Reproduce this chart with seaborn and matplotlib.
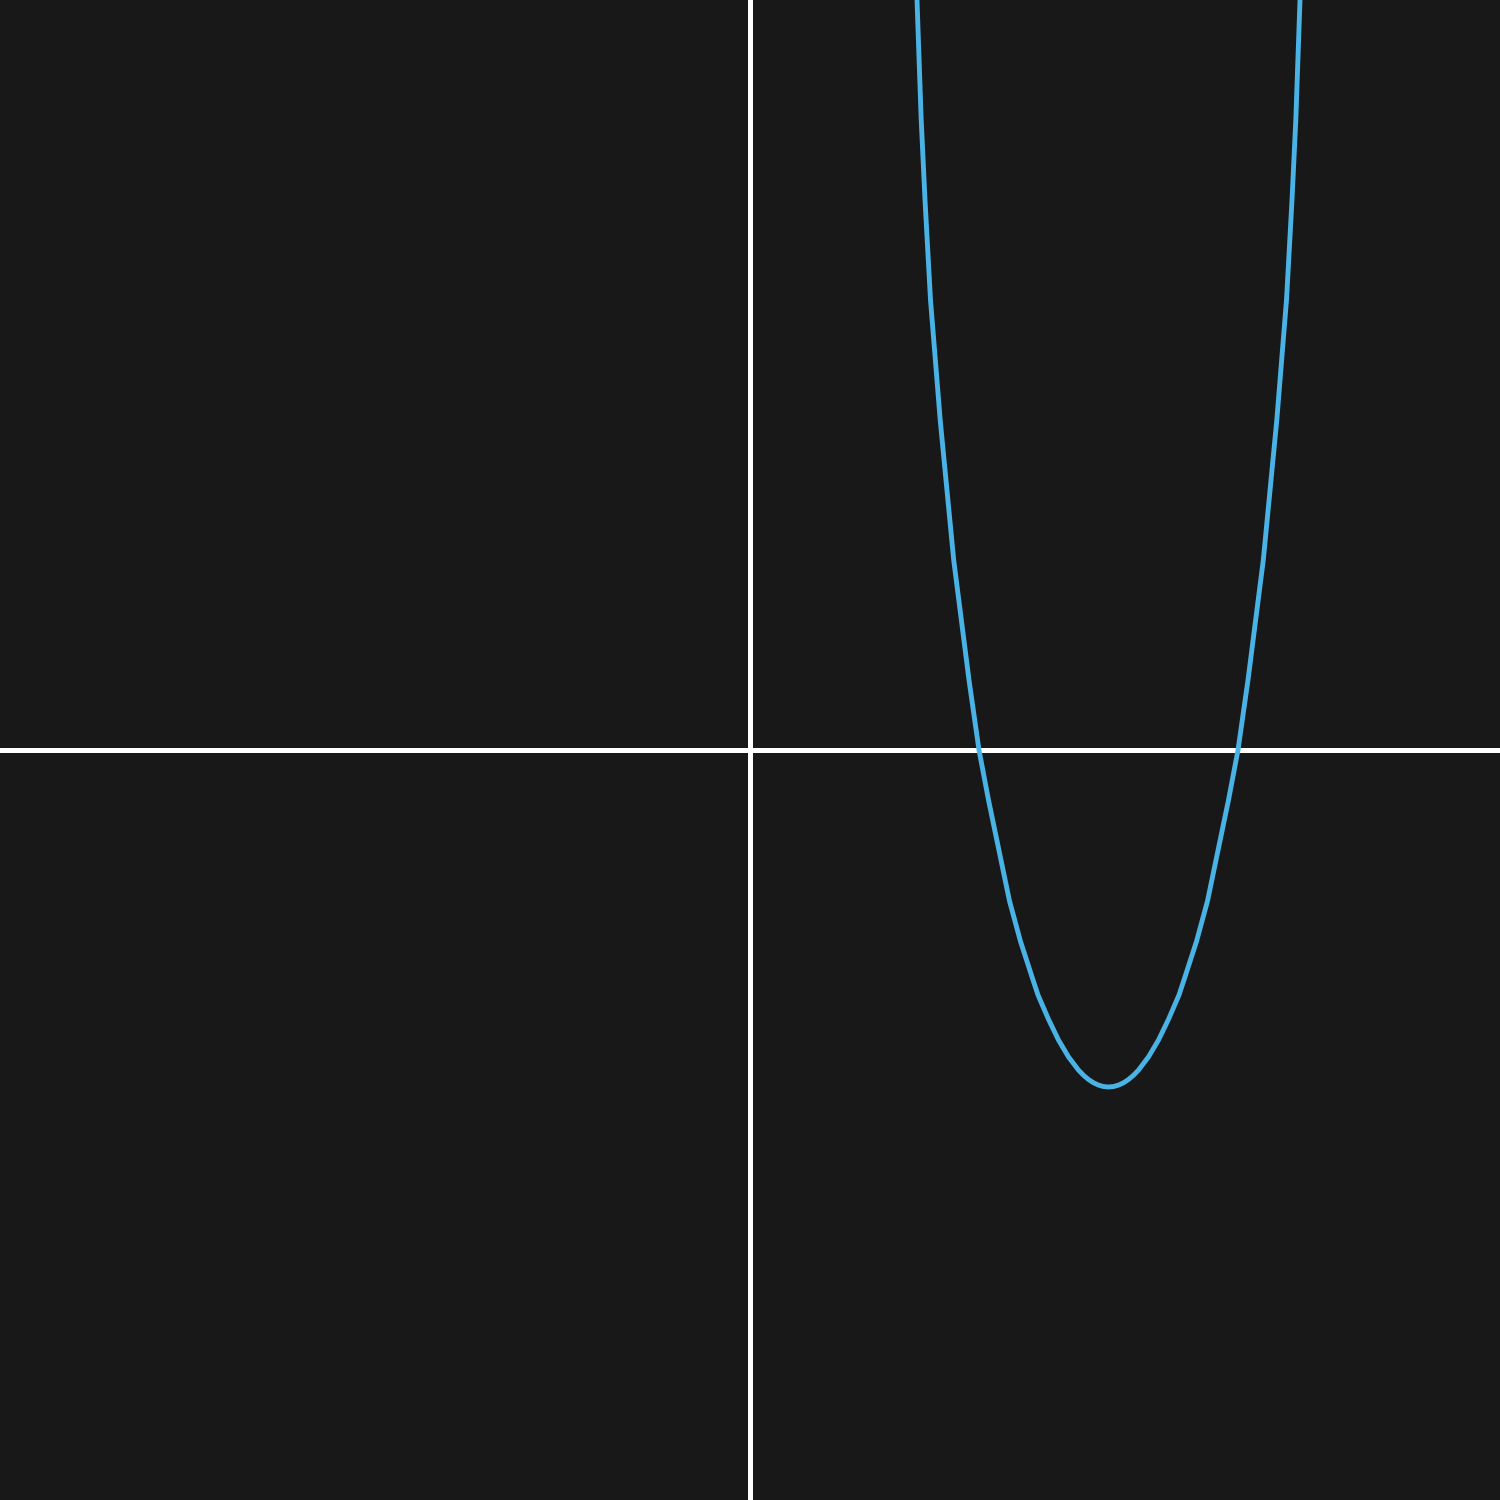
import matplotlib
matplotlib.use("Agg")
import matplotlib.pyplot as plt
import seaborn as sns
import pandas as pd

# Curve points (data units, view spans -10..10 on both axes)
curve_x = [2.2133, 2.2267, 2.2827, 2.3333, 2.4067, 2.536, 2.716, 2.92, 3.0533, 3.18,
           3.46, 3.6067, 3.7667, 3.84, 3.98, 4.1133, 4.2467, 4.38, 4.4467, 4.5133,
           4.58, 4.6467, 4.7133, 4.78,
           4.8467, 4.9133, 4.98, 5.0467, 5.1133, 5.18, 5.3133, 5.4467, 5.58, 5.72,
           5.7933, 5.9533, 6.10, 6.38, 6.5067, 6.64, 6.844, 7.024, 7.1533, 7.2267,
           7.2773, 7.3333, 7.3467]
curve_y = [10.4, 10.0, 8.4, 7.3333, 6.0, 4.4, 2.5333, 0.9333, 0.0, -0.6667,
           -2.0133, -2.552, -3.0453, -3.2667, -3.5907, -3.8667, -4.092, -4.268, -4.3367, -4.3933,
           -4.437, -4.468, -4.487, -4.4933,
           -4.487, -4.468, -4.437, -4.3933, -4.3367, -4.268, -4.092, -3.8667, -3.5907, -3.2667,
           -3.0453, -2.552, -2.0133, -0.6667, 0.0, 0.9333, 2.5333, 4.4, 6.0, 7.3333,
           8.4, 10.0, 10.4]

x_range = [-10, 10]
y_range = [-10, 10]

BG = "#181818"
LINE = "#4AB3E6"

sns.set_theme(style="dark")
plt.rcParams['font.family'] = ['DejaVu Sans']

fig = plt.figure(figsize=(15, 15), dpi=100, facecolor=BG)
ax = fig.add_axes([0, 0, 1, 1])
ax.set_facecolor(BG)

ax.axhline(0, color="white", lw=3.6, zorder=1)
ax.axvline(0, color="white", lw=3.6, zorder=1)

df = pd.DataFrame({"x": curve_x, "y": curve_y})
sns.lineplot(data=df, x="x", y="y", ax=ax, color=LINE, lw=3.5, sort=False,
             estimator=None, zorder=2, solid_joinstyle="round", solid_capstyle="round")

ax.set_xlim(*x_range)
ax.set_ylim(*y_range)
ax.set_axis_off()

fig.savefig("out.png", dpi=100, facecolor=BG)
